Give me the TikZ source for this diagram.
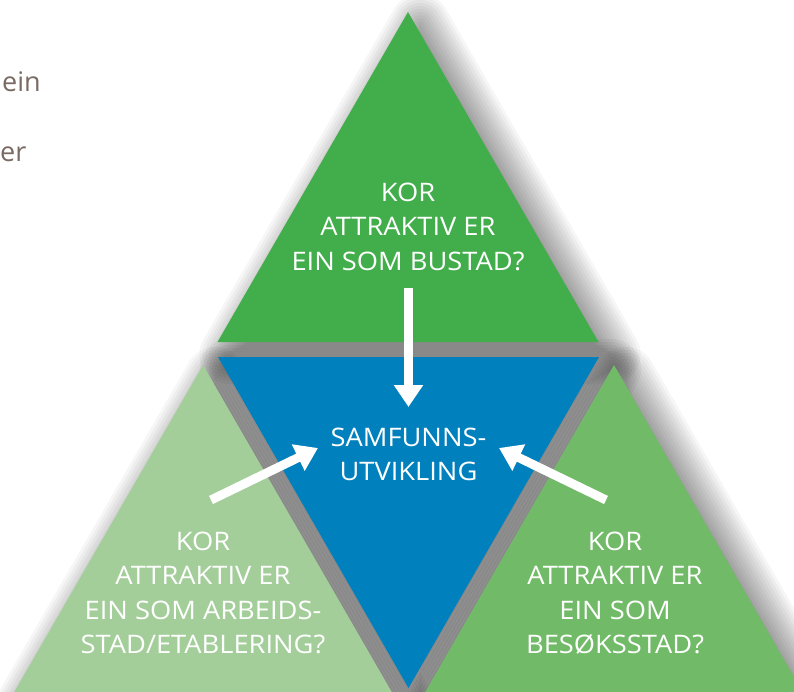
\documentclass[tikz,border=0pt]{standalone}
\usepackage{fontspec}
\setmainfont{Open Sans}
\newfontfamily\labelfont[FakeStretch=1.07]{Open Sans}
\usetikzlibrary{arrows.meta}
\definecolor{topgreen}{RGB}{66,173,75}
\definecolor{midblue}{RGB}{0,128,188}
\definecolor{lightgreen}{RGB}{163,206,154}
\definecolor{rightgreen}{RGB}{113,186,103}
\definecolor{bodytext}{RGB}{122,106,100}
\tikzset{
  label/.style={text=white, align=center, inner sep=0pt, font=\labelfont\fontsize{25.5}{34.5}\selectfont},
  flow/.style={draw=white, line width=9pt, -{Triangle[length=22pt,width=28pt]}},
  shadowlayer/.style={fill=black, fill opacity=0.037},
  shadowring/.style={draw=black, draw opacity=0.037, line join=round},
  bodyline/.style={text=bodytext, inner sep=0pt, anchor=base west, font=\fontsize{27}{30}\selectfont}
}
% #1 closed triangle path, #2 its centroid (inradius 110)
\newcommand\mysoftshadow[2]{%
  \foreach \d in {0,3,...,15}{%
    \pgfmathsetmacro\s{(110-\d)/110}%
    \fill[shadowlayer, shift={(12,12)}, scale around={\s:#2}] #1;
  }%
  \foreach \d in {3,6,...,30}{%
    \pgfmathsetmacro\s{(110-\d)/110}%
    \pgfmathsetmacro\w{2*\d}%
    \fill[shadowlayer, shift={(12,12)}, scale around={\s:#2}] #1;
    \draw[shadowring, shift={(12,12)}, line width=\w pt] #1;
  }%
}
\begin{document}
\begin{tikzpicture}[x=1pt,y=-1pt]
\useasboundingbox (0,0) rectangle (794,692);
\clip (0,0) rectangle (794,692);
\fill[white] (0,0) rectangle (794,692);

% vertices
\coordinate (tA) at (408,12);   \coordinate (tL) at (217.5,342); \coordinate (tR) at (598.5,342);
\coordinate (bA) at (408.5,688); \coordinate (bL) at (218,357);  \coordinate (bR) at (599,357);
\coordinate (lA) at (203,365);  \coordinate (lL) at (12.5,695);  \coordinate (lR) at (393.5,695);
\coordinate (rA) at (614,365);  \coordinate (rL) at (423.5,695); \coordinate (rR) at (804.5,695);

% shadows
\mysoftshadow{(408,12) -- (217.5,342) -- (598.5,342) -- cycle}{(408,232)}
\mysoftshadow{(408.5,688) -- (218,357) -- (599,357) -- cycle}{(408.5,467)}
\mysoftshadow{(203,365) -- (12.5,695) -- (393.5,695) -- cycle}{(203,585)}
\mysoftshadow{(614,365) -- (423.5,695) -- (804.5,695) -- cycle}{(614,585)}

% triangles
\fill[lightgreen] (lA) -- (lL) -- (lR) -- cycle;
\fill[rightgreen] (rA) -- (rL) -- (rR) -- cycle;
\fill[midblue] (bA) -- (bL) -- (bR) -- cycle;
\fill[topgreen] (tA) -- (tL) -- (tR) -- cycle;

% body text fragments
\node[bodyline] (ein) at (2,92) {ein};
\node[bodyline] (er) at (0,162) {er};

% labels
\node[label] (bustad) at (408,226.5) {KOR\\ATTRAKTIV ER\\EIN SOM BUSTAD?};
\node[label] (samf) at (408.5,454.5) {SAMFUNNS-\\UTVIKLING};
\node[label] (arbeid) at (203,593) {KOR\\ATTRAKTIV ER\\EIN SOM ARBEIDS-\\STAD/ETABLERING?};
\node[label] (besok) at (615,593) {KOR\\ATTRAKTIV ER\\EIN SOM\\BESØKSSTAD?};

% arrows
\coordinate (downS) at (408.5,288); \coordinate (downE) at (408.5,407);
\coordinate (leftS) at (211,500);   \coordinate (leftE) at (318,448);
\coordinate (rightS) at (606,500);  \coordinate (rightE) at (499,448);
\draw[flow] (downS) -- (downE);
\draw[flow] (leftS) -- (leftE);
\draw[flow] (rightS) -- (rightE);
\end{tikzpicture}
\end{document}
